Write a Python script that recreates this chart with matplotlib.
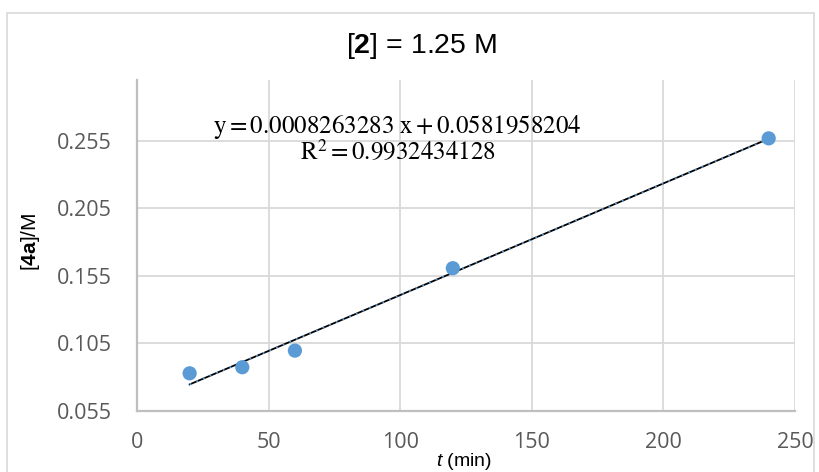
import numpy as np
import matplotlib
matplotlib.use("Agg")
import matplotlib.pyplot as plt
from matplotlib.patches import Rectangle

# Data
t_min = [20, 40, 60, 120, 240]
conc_4a = [0.0829, 0.0874, 0.0997, 0.1607, 0.2568]
x_ticks = [0, 50, 100, 150, 200, 250]
y_ticks = [0.055, 0.105, 0.155, 0.205, 0.255]
y_tick_labels = ["0.055", "0.105", "0.155", "0.205", "0.255"]
eq_line1 = r"$\mathrm{y} = 0.0008263283\ \mathrm{x} + 0.0581958204$"
eq_line2 = r"$\mathrm{R}^{2} = 0.9932434128$"
title_text = r"[$\mathbf{2}$] = 1.25 M"

plt.rcParams['font.family'] = ['Open Sans', 'DejaVu Sans']
plt.rcParams['mathtext.fontset'] = 'custom'
plt.rcParams['mathtext.rm'] = 'Liberation Sans'
plt.rcParams['mathtext.bf'] = 'Liberation Sans:bold'
plt.rcParams['mathtext.it'] = 'Liberation Sans:italic'

W, H = 820, 472
fig = plt.figure(figsize=(W / 100, H / 100), dpi=100)
fig.patch.set_facecolor('white')

# chart border
fig.patches.append(Rectangle((7 / W, -0.05), (814 - 7) / W, 1.05 - 13 / H,
                             transform=fig.transFigure, fill=False,
                             edgecolor='#D9D9D9', lw=1.2))

ax = fig.add_axes([137 / W, 1 - 411 / H, (795 - 137) / W, (411 - 80) / H])
ax.set_xlim(0, 250)
ax.set_ylim(0.055, 0.300)

ax.set_xticks(x_ticks)
ax.set_yticks(y_ticks)
ax.set_yticklabels(y_tick_labels)
ax.grid(True, color='#D9D9D9', lw=1.3)
ax.set_axisbelow(True)
for s in ['top', 'right']:
    ax.spines[s].set_visible(False)
for s in ['left', 'bottom']:
    ax.spines[s].set_color('#BFBFBF')
    ax.spines[s].set_linewidth(1.6)
ax.tick_params(length=0, labelsize=15.5, labelcolor='#595959')
ax.tick_params(axis='y', pad=18)
ax.tick_params(axis='x', pad=15)

# trendline
coef = np.polyfit(t_min, conc_4a, 1)
xs = np.array([min(t_min), max(t_min)])
ax.plot(xs, np.polyval(coef, xs), color='black', lw=1.3, zorder=3)
ax.plot(xs, np.polyval(coef, xs), color='#5B9BD5', lw=1.3, ls=(0, (1, 3)), zorder=4)

ax.scatter(t_min, conc_4a, s=105, color='#5B9BD5', zorder=5, edgecolors='none')

# equation text
ax.text(99, 0.2653, eq_line1, ha='center', va='center', fontsize=18,
        math_fontfamily='stix', color='black')
ax.text(99, 0.2462, eq_line2, ha='center', va='center', fontsize=18,
        math_fontfamily='stix', color='black')

# title
fig.text(422 / W, 1 - 46 / H, title_text, ha='center', va='center',
         fontsize=20.5, family='Liberation Sans', color='black')

# axis labels
fig.text(31 / W, 1 - 242 / H, r"[$\mathbf{4a}$]/M", rotation=90, ha='center',
         va='center', fontsize=15, family='Liberation Sans', color='black')
fig.text(464 / W, 1 - 461 / H, r"$\mathit{t}$ (min)", ha='center', va='center',
         fontsize=14, family='Liberation Sans', color='black')

fig.savefig('out.png', dpi=100)
